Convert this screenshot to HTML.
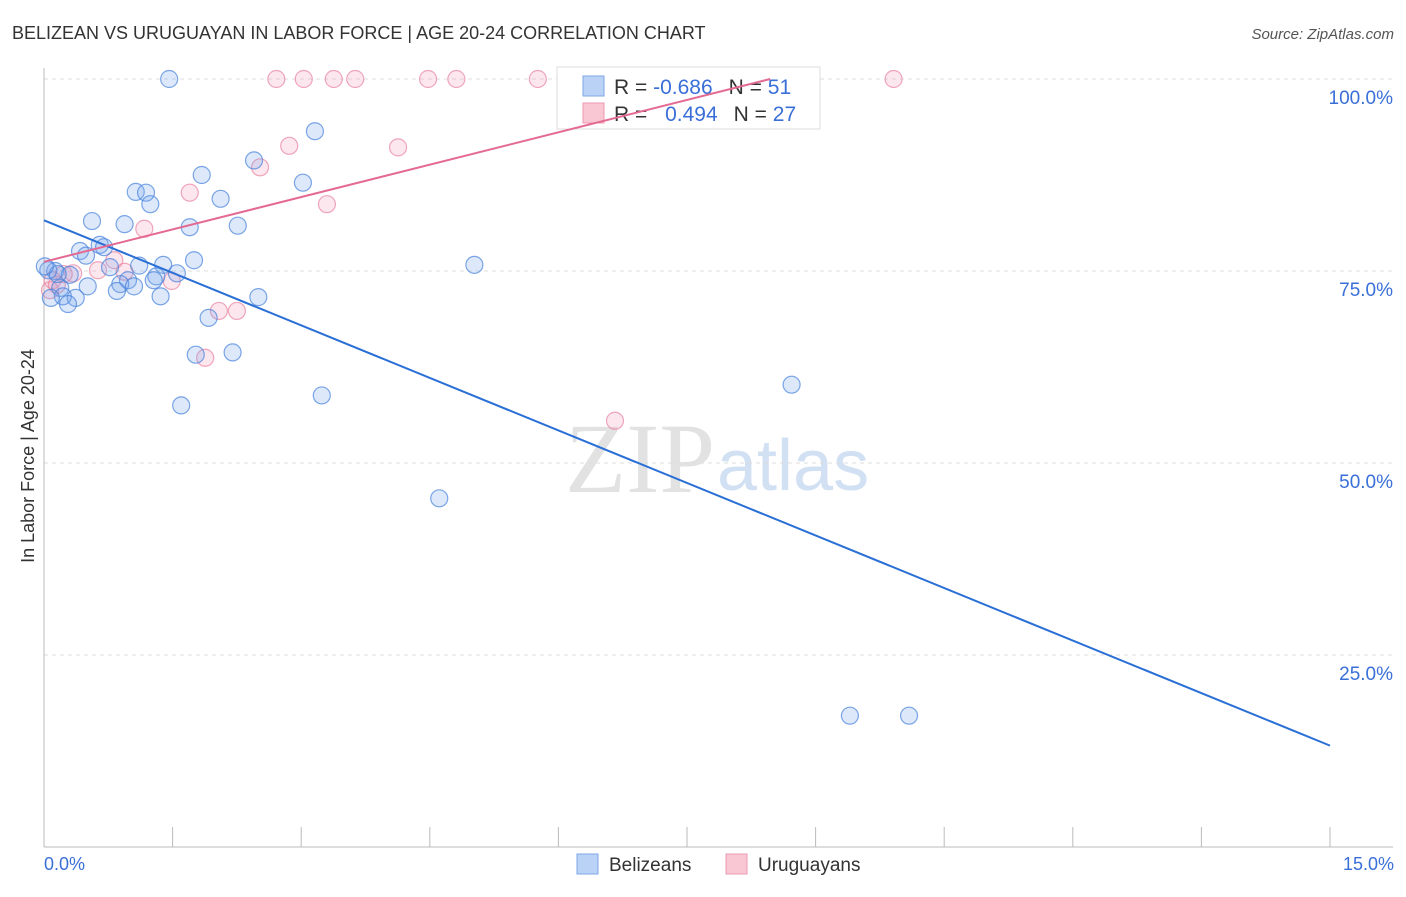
<!DOCTYPE html>
<html><head><meta charset="utf-8"><style>
body{margin:0;background:#fff;font-family:"Liberation Sans",sans-serif;}
</style></head><body>
<svg width="1406" height="892" xmlns="http://www.w3.org/2000/svg">
<text x="12" y="39" font-size="18" fill="#333">BELIZEAN VS URUGUAYAN IN LABOR FORCE | AGE 20-24 CORRELATION CHART</text>
<text x="1394" y="39" font-size="15" fill="#555" font-style="italic" text-anchor="end">Source: ZipAtlas.com</text>
<text x="715" y="492" font-size="100" fill="#e2e2e2" font-family="Liberation Serif" text-anchor="end">ZIP</text>
<text x="717" y="490" font-size="72" fill="#d2e0f3">atlas</text>
<g id="grid"></g>
<g id="axes"></g>
<g>
<rect x="557" y="67" width="263" height="62" fill="#fff" stroke="#ddd"/>
<rect x="583" y="76" width="21" height="20" fill="#b9d2f5" stroke="#7ea6e6"/>
<rect x="583" y="103" width="21" height="20" fill="#f9c6d4" stroke="#ee9ab2"/>
<text x="614" y="94" font-size="21" fill="#333">R = <tspan fill="#3a6fd8">-0.686</tspan><tspan dx="16">N = </tspan><tspan fill="#3a6fd8">51</tspan></text>
<text x="614" y="121" font-size="21" fill="#333">R = <tspan fill="#3a6fd8" dx="12">0.494</tspan><tspan dx="16">N = </tspan><tspan fill="#3a6fd8">27</tspan></text>
</g>
<g id="pts"></g>
<g id="lines"></g>
<text transform="translate(34,456) rotate(-90)" font-size="18" fill="#333" text-anchor="middle">In Labor Force | Age 20-24</text>
<text x="44" y="870" font-size="18" fill="#3a6fd8">0.0%</text>
<text x="1394" y="870" font-size="18" fill="#3a6fd8" text-anchor="end">15.0%</text>
<g><rect x="577" y="854" width="21" height="20" fill="#b9d2f5" stroke="#7ea6e6"/><text x="609" y="871" font-size="19" fill="#333">Belizeans</text></g>
<g><rect x="726" y="854" width="21" height="20" fill="#f9c6d4" stroke="#ee9ab2"/><text x="758" y="871" font-size="19" fill="#333">Uruguayans</text></g>
</svg>
<script>
const yTicks=[100,75,50,25];
const yTickLabels=["100.0%","75.0%","50.0%","25.0%"];
const xTicks=[0,1.5,3,4.5,6,7.5,9,10.5,12,13.5,15];
const belizeX=[1.46,3.16,2.45,1.84,3.02,1.07,1.19,1.24,2.06,0.56,0.94,1.70,2.26,0.65,0.70,0.42,0.49,1.75,5.02,1.39,1.11,0.77,0.13,0.05,1.55,1.31,0.30,0.98,1.28,0.89,1.05,0.51,0.19,0.85,0.22,0.37,0.08,2.50,1.36,0.28,1.92,1.77,2.20,1.60,3.24,8.72,4.61,9.40,10.09,0.16,0.01];
const belizeY=[100,93.2,89.4,87.5,86.5,85.3,85.2,83.7,84.4,81.5,81.1,80.7,80.9,78.4,78.1,77.6,77.0,76.4,75.8,75.8,75.7,75.5,75.0,75.1,74.7,74.3,74.5,73.8,73.8,73.3,73.0,73.0,72.8,72.4,71.7,71.5,71.5,71.6,71.7,70.7,68.9,64.1,64.4,57.5,58.8,60.2,45.4,17.1,17.1,74.6,75.6];
const uruX=[2.71,3.03,3.38,3.63,4.48,4.81,5.76,9.91,2.86,4.13,2.52,1.70,3.30,1.17,0.82,0.63,0.34,0.23,0.94,1.49,0.10,0.07,2.04,2.25,1.88,6.66,0.15];
const uruY=[100,100,100,100,100,100,100,100,91.3,91.1,88.5,85.2,83.7,80.5,76.4,75.1,74.7,74.6,74.9,73.7,73.8,72.5,69.8,69.8,63.7,55.5,73.2];
const belizeFit=[81.6,-4.56]; // intercept, slope
const uruFit=[76.2,2.81];
const uruFitEnd=8.47;
const NS="http://www.w3.org/2000/svg";
const sx=v=>44+v/15*1286, sy=v=>847-v/100*768;
function mk(t,a,p){const e=document.createElementNS(NS,t);for(const k in a)e.setAttribute(k,a[k]);document.getElementById(p).appendChild(e);return e;}
yTicks.forEach((t,i)=>{
 const g=mk('line',{x1:44,x2:1393,y1:sy(t),y2:sy(t),stroke:'#ddd','stroke-dasharray':'4,4'},'grid');
 
 
 const l=mk('text',{x:1393,y:sy(t)+25,'font-size':19,fill:'#3a6fd8','text-anchor':'end'},'grid');l.textContent=yTickLabels[i];
 
 
});
const ax=mk('line',{x1:44,x2:44,y1:68,y2:847,stroke:'#bbb'},'axes');


const xa=mk('line',{x1:44,x2:1393,y1:847,y2:847,stroke:'#bbb'},'axes');


xTicks.forEach(t=>{const e=mk('line',{x1:sx(t),x2:sx(t),y1:827,y2:847,stroke:'#bbb'},'axes');
 
 });
uruX.forEach((x,i)=>{const c=mk('circle',{cx:sx(x),cy:sy(uruY[i]),r:8.5,fill:'rgba(244,160,188,0.25)',stroke:'rgba(232,130,160,0.7)','stroke-width':1.2},'pts');
 
 });
belizeX.forEach((x,i)=>{const c=mk('circle',{cx:sx(x),cy:sy(belizeY[i]),r:8.5,fill:'rgba(120,165,235,0.25)',stroke:'rgba(70,130,220,0.7)','stroke-width':1.2},'pts');
 
 });
const bl=mk('line',{x1:sx(0),y1:sy(belizeFit[0]),x2:sx(15),y2:sy(belizeFit[0]+belizeFit[1]*15),stroke:'#2a6fd6','stroke-width':2},'lines');


const ul=mk('line',{x1:sx(0),y1:sy(uruFit[0]),x2:sx(uruFitEnd),y2:sy(uruFit[0]+uruFit[1]*uruFitEnd),stroke:'#e46a92','stroke-width':2},'lines');


</script>
</body></html>
